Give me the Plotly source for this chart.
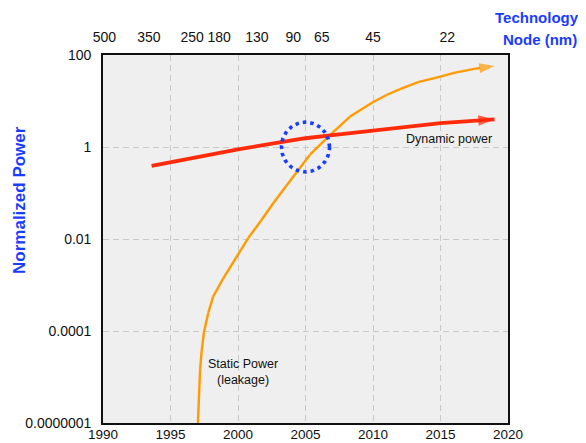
import numpy as np
import plotly.graph_objects as go

# Dynamic power (normalized)
dyn_years = [1993.6, 1997.2, 2000.0, 2003.3, 2005.0, 2007.0, 2010.0, 2012.0, 2015.0, 2019.0]
dyn_power = [0.39, 0.63, 0.89, 1.29, 1.55, 1.82, 2.29, 2.69, 3.31, 4.0]

# Static (leakage) power (normalized)
stat_years = [1997.0, 1997.1, 1997.19, 1997.3, 1997.48, 1997.8, 1998.15, 1998.91, 1999.9,
              2000.76, 2001.7, 2002.61, 2003.6, 2004.59, 2005.33, 2006.81, 2008.3,
              2010.02, 2011.0, 2012.0, 2013.4, 2015.0, 2016.0, 2017.5, 2019.0]
stat_power = [6.3e-7, 4.0e-6, 1.4e-5, 3.5e-5, 9.5e-5, 2.5e-4, 5.5e-4, 1.4e-3, 4.2e-3,
              1.05e-2, 2.5e-2, 6.0e-2, 0.145, 0.35, 0.68, 1.82, 4.6,
              9.5, 13.5, 18.2, 26, 34, 41, 50, 58]

# Technology node axis (top)
node_years = [1990.1, 1993.4, 1996.6, 1998.6, 2001.4, 2004.1, 2006.2, 2010.0, 2015.5]
node_labels = ["500", "350", "250", "180", "130", "90", "65", "45", "22"]

year_ticks = [1990, 1995, 2000, 2005, 2010, 2015, 2020]
power_ticks = [100, 1, 0.01, 0.0001, 1e-6]
power_labels = ["100", "1", "0.01", "0.0001", "0.0000001"]

# highlighted crossover region: centre (year, power) and radii (years, decades)
circle_center = (2005.0, 1.0)
circle_radius = (1.78, 0.54)

RED = "#ff2a0a"
ORANGE = "#ff9a00"
BLUE = "#1a3cff"
FONT = "Liberation Sans, Arial, sans-serif"


def arrow_sizes(n, s):
    return [0] * (n - 1) + [s]


fig = go.Figure()
fig.add_trace(go.Scatter(
    x=stat_years, y=stat_power, mode="lines+markers",
    line=dict(color=ORANGE, width=2.4),
    marker=dict(symbol="arrow", size=arrow_sizes(len(stat_years), 16),
                angleref="previous", color=ORANGE, line=dict(width=0)),
    hoverinfo="skip", showlegend=False))
fig.add_trace(go.Scatter(
    x=dyn_years, y=dyn_power, mode="lines+markers",
    line=dict(color=RED, width=3.8),
    marker=dict(symbol="arrow", size=arrow_sizes(len(dyn_years), 17),
                angleref="previous", color=RED, line=dict(width=0)),
    hoverinfo="skip", showlegend=False))

t = np.linspace(0, 2 * np.pi, 121)
cx = circle_center[0] + circle_radius[0] * np.cos(t)
cy = 10 ** (np.log10(circle_center[1]) + circle_radius[1] * np.sin(t))
fig.add_trace(go.Scatter(
    x=cx, y=cy, mode="lines",
    line=dict(color=BLUE, width=3.6, dash="3.5px,4px"),
    hoverinfo="skip", showlegend=False))

# invisible trace for top axis
fig.add_trace(go.Scatter(x=[1990, 2020], y=[1, 1], xaxis="x2", mode="lines",
                         line=dict(width=0), opacity=0, hoverinfo="skip",
                         showlegend=False))


def label(x, y, text, font, **kw):
    fig.add_annotation(x=x, y=y, xref="paper", yref="paper", text=text,
                       showarrow=False, xanchor="center", yanchor="middle",
                       font=font, **kw)


ann_font = dict(family=FONT, size=12.5, color="#111")
label(0.854, 0.772, "Dynamic power", ann_font)
label(0.346, 0.139, "Static Power<br>(leakage)", ann_font)
title_font = dict(family=FONT, size=15, color=BLUE)
label(1.072, 1.103, "<b>Technology</b>", title_font)
label(1.079, 1.041, "<b>Node (nm)</b>", title_font)
label(-0.205, 0.606, "<b>Normalized Power</b>",
      dict(family=FONT, size=17, color=BLUE), textangle=-90)

axis_common = dict(showline=True, linecolor="#111", linewidth=1.6, mirror=True,
                   zeroline=False, automargin=False)
grid = dict(showgrid=True, gridcolor="#c9c9c9", griddash="6px,4px", gridwidth=1)

# the page body adds an 8px offset, so the figure is sized to end at the window edge
fig.update_layout(
    width=578, height=435,
    margin=dict(l=95, r=78, t=47, b=20, autoexpand=False),
    paper_bgcolor="white", plot_bgcolor="#efefef",
    font=dict(family=FONT, size=14, color="#111"),
    xaxis=dict(range=[1990, 2020], tickvals=year_ticks,
               ticktext=[str(v) for v in year_ticks], ticks="",
               ticklabelstandoff=-2,
               tickfont=dict(size=13.5), **grid, **axis_common),
    xaxis2=dict(range=[1990, 2020], overlaying="x", side="top",
                tickvals=node_years, ticktext=node_labels, showgrid=False,
                ticks="outside", ticklen=6, tickcolor="rgba(0,0,0,0)",
                tickfont=dict(size=14), showline=False, zeroline=False,
                automargin=False),
    yaxis=dict(type="log", range=[-6, 2], tickvals=power_ticks,
               ticktext=power_labels,
               ticks="outside", ticklen=7, tickcolor="rgba(0,0,0,0)",
               tickfont=dict(size=14), **grid, **axis_common),
)

fig.write_html("out.html")
